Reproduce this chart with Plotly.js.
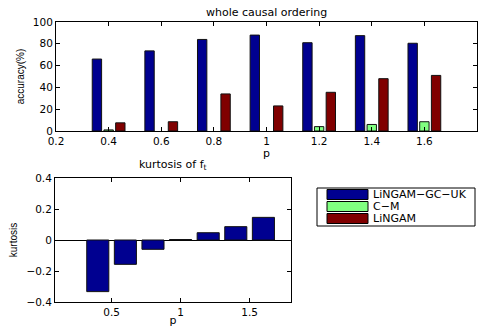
<!DOCTYPE html>
<html>
<head>
<meta charset="utf-8">
<script src="https://cdn.plot.ly/plotly-3.0.1.min.js"></script>
<style>html,body{margin:0;padding:0;background:#fff;}#chart{width:481px;height:327px;}</style>
</head>
<body>
<div id="chart"></div>
<script>
// ---- data ----
var pValues = [0.4, 0.6, 0.8, 1.0, 1.2, 1.4, 1.6];
var seriesNames = ["LiNGAM\u2212GC\u2212UK", "C\u2212M", "LiNGAM"];
var accLingamGcUk = [66, 73.5, 84, 88, 81, 87.5, 80.5];
var accCM = [1, 0, 0, 0, 4, 6, 8.5];
var accLingam = [7.5, 8.5, 34, 23, 35.5, 48, 51];
var kurtosisValues = [-0.333, -0.157, -0.06, 0.003, 0.047, 0.086, 0.146];
var topXTicks = [0.2, 0.4, 0.6, 0.8, 1, 1.2, 1.4, 1.6, 1.8];
var topYTicks = [0, 20, 40, 60, 80, 100];
var botXTicks = [0.5, 1, 1.5];
var botYTicks = [-0.4, -0.2, 0, 0.2, 0.4];
var botYTickText = ["\u22120.4", "\u22120.2", "0", "0.2", "0.4"];

var colors = ["#000090", "#80ff80", "#800000"];
var W = 481, H = 327;
function px(x){return x / W;}
function py(y){return 1 - y / H;}
var FONT = "DejaVu Sans, Liberation Sans, Arial, sans-serif";
var NARROW = "Liberation Sans Narrow, Liberation Sans, Arial, sans-serif";

var accSeries = [accLingamGcUk, accCM, accLingam];
var traces = accSeries.map(function(vals, i){
  return {type: "bar", x: pValues, y: vals, name: seriesNames[i], xaxis: "x", yaxis: "y",
    marker: {color: colors[i], line: {color: "#111", width: vals.map(function(v){return v === 0 ? 0 : 1;})}},
    showlegend: false};
});
traces.push({type: "bar", x: pValues, y: kurtosisValues, xaxis: "x2", yaxis: "y2", width: 0.16,
  marker: {color: colors[0], line: {color: "#111", width: 1}}, showlegend: false});

var axCommon = {showline: true, linecolor: "#000", linewidth: 1, mirror: "allticks", ticks: "inside",
  ticklen: 4, tickcolor: "#000", showgrid: false, zeroline: false,
  tickfont: {family: FONT, size: 10.5, color: "#000"}, fixedrange: true};

var layout = {
  width: W, height: H, margin: {l: 0, r: 0, t: 0, b: 0},
  paper_bgcolor: "#fff", plot_bgcolor: "#fff",
  barmode: "group", bargap: 0.333, bargroupgap: 0.2,
  showlegend: false,
  font: {family: FONT, color: "#000"},
  xaxis: Object.assign({}, axCommon, {domain: [px(56), px(477)], range: [0.2, 1.8],
    tickvals: topXTicks, ticktext: topXTicks.map(String), anchor: "y",
    title: {text: "p", font: {family: FONT, size: 11}, standoff: 0}}),
  yaxis: Object.assign({}, axCommon, {domain: [py(131), py(22)], range: [0, 100],
    tickvals: topYTicks, anchor: "x",
    title: {text: "accuracy(%)", font: {family: NARROW, size: 10}, standoff: 6}}),
  xaxis2: Object.assign({}, axCommon, {domain: [px(55), px(291)], range: [0.09, 1.8],
    tickvals: botXTicks, ticktext: ["0.5", "1", "1.5"], anchor: "y2",
    title: {text: "p", font: {family: FONT, size: 11}, standoff: 0}}),
  yaxis2: Object.assign({}, axCommon, {domain: [py(302), py(178)], range: [-0.4, 0.4],
    tickvals: botYTicks, ticktext: botYTickText, anchor: "x2",
    zeroline: true, zerolinecolor: "#000", zerolinewidth: 1,
    title: {text: "kurtosis", font: {family: NARROW, size: 10}, standoff: 6}}),
  annotations: [
    {xref: "paper", yref: "paper", x: px(266), y: py(12), text: "whole causal ordering",
     showarrow: false, font: {family: FONT, size: 11}, xanchor: "center", yanchor: "middle"},
    {xref: "paper", yref: "paper", x: px(173), y: py(165), text: "kurtosis of f<sub>t</sub>",
     showarrow: false, font: {family: FONT, size: 11}, xanchor: "center", yanchor: "middle"}
  ],
  shapes: [
    {type: "rect", xref: "paper", yref: "paper", x0: px(317), x1: px(475), y0: py(226), y1: py(188),
     line: {color: "#000", width: 1}, fillcolor: "#fff"}
  ]
};
var rowCenters = [194.5, 206.5, 218.5];
seriesNames.forEach(function(name, i){
  layout.shapes.push({type: "rect", xref: "paper", yref: "paper", x0: px(327), x1: px(368),
    y0: py(rowCenters[i] + 5), y1: py(rowCenters[i] - 5), fillcolor: colors[i], line: {color: "#000", width: 1}});
  layout.annotations.push({xref: "paper", yref: "paper", x: px(371), y: py(rowCenters[i]), text: name,
    showarrow: false, xanchor: "left", yanchor: "middle", font: {family: FONT, size: 11}});
});

Plotly.newPlot("chart", traces, layout, {displayModeBar: false, staticPlot: true});
</script>
</body>
</html>
